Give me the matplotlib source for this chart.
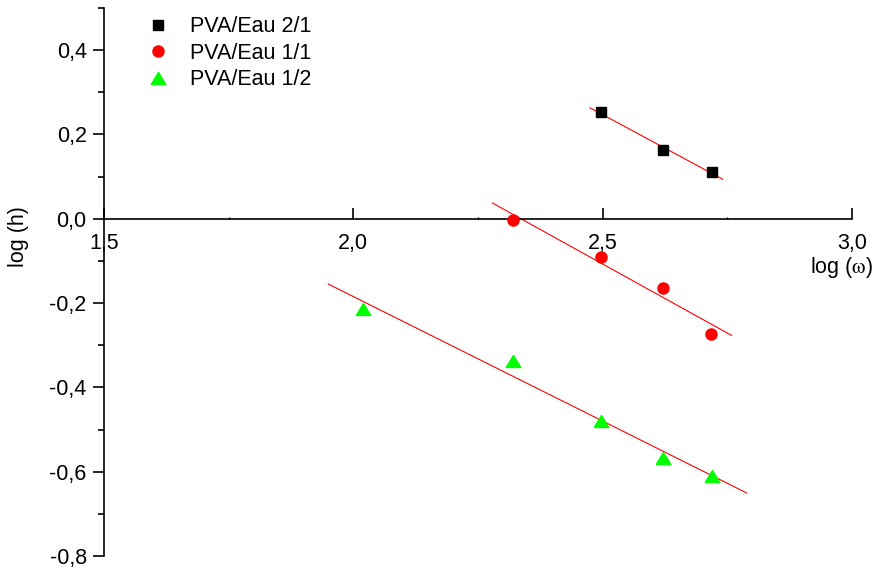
import numpy as np
import matplotlib
matplotlib.use("Agg")
import matplotlib.pyplot as plt
from matplotlib.ticker import MultipleLocator, FuncFormatter

plt.rcParams['font.family'] = ['Liberation Sans', 'DejaVu Sans']
plt.rcParams['mathtext.fontset'] = 'stix'

# ---- data ----
labels = ["PVA/Eau 2/1", "PVA/Eau 1/1", "PVA/Eau 1/2"]
x_21 = [2.496, 2.621, 2.719]
y_21 = [0.253, 0.162, 0.112]
x_11 = [2.320, 2.496, 2.621, 2.718]
y_11 = [-0.003, -0.090, -0.165, -0.273]
x_12 = [2.019, 2.320, 2.497, 2.621, 2.719]
y_12 = [-0.214, -0.337, -0.479, -0.568, -0.610]
# extents of the fitted lines
fit_range_21 = [2.4745, 2.7406]
fit_range_11 = [2.279, 2.7587]
fit_range_12 = [1.9498, 2.7887]

FS = 15.5
W, H = 877, 569
fig = plt.figure(figsize=(W / 100, H / 100), dpi=100)
ax = fig.add_axes([104 / W, 1 - 556 / H, (852 - 104) / W, (556 - 8) / H])

tri = [(-1, -0.82), (1, -0.82), (0, 0.82), (-1, -0.82)]

ax.plot(x_21, y_21, ls='none', marker='s', ms=7.5, color='black', label=labels[0], zorder=3)
ax.plot(x_11, y_11, ls='none', marker='o', ms=8, color='#ff0000', mec='#ff0000', label=labels[1], zorder=3)
ax.plot(x_12, y_12, ls='none', marker=tri, ms=10.5, color='#00ff00', mec='#00ff00', label=labels[2], zorder=3)

for xs, ys, rng in [(x_21, y_21, fit_range_21), (x_11, y_11, fit_range_11), (x_12, y_12, fit_range_12)]:
    p = np.polyfit(xs, ys, 1)
    xr = np.array(rng)
    ax.plot(xr, np.polyval(p, xr), color='#ff0000', lw=0.8, zorder=2)

ax.set_xlim(1.5, 3.0)
ax.set_ylim(-0.8, 0.5)

for s in ['top', 'right']:
    ax.spines[s].set_visible(False)
ax.spines['bottom'].set_position(('data', 0))
ax.spines['left'].set_linewidth(1.2)
ax.spines['bottom'].set_linewidth(1.2)

ax.xaxis.set_major_locator(MultipleLocator(0.5))
ax.xaxis.set_minor_locator(MultipleLocator(0.25))
ax.yaxis.set_major_locator(MultipleLocator(0.2))
ax.yaxis.set_minor_locator(MultipleLocator(0.1))
fmt = FuncFormatter(lambda v, pos: ("%.1f" % v).replace('.', ',').replace('-0,0', '0,0'))
ax.xaxis.set_major_formatter(fmt)
ax.yaxis.set_major_formatter(fmt)

ax.tick_params(axis='x', which='major', direction='in', length=8, width=1.2, pad=10, labelsize=FS)
ax.tick_params(axis='x', which='minor', direction='in', length=1.5, width=1.0)
ax.tick_params(axis='y', which='major', direction='out', length=8, width=1.2, pad=4.5, labelsize=FS)
ax.tick_params(axis='y', which='minor', direction='out', length=4, width=1.2)

leg = ax.legend(loc='upper left', bbox_to_anchor=(0.0575, 0.985), frameon=False,
                fontsize=FS, handlelength=1.0, handletextpad=1.0, labelspacing=0.26,
                borderpad=0, borderaxespad=0, numpoints=1)

fig.text(873 / W, 1 - 267 / H, r'log ($\mathrm{\omega}$)', ha='right', va='center', fontsize=FS)
fig.text(18.5 / W, 1 - 237 / H, 'log (h)', ha='center', va='center', rotation=90, fontsize=FS)

fig.savefig('out.png', dpi=100)
